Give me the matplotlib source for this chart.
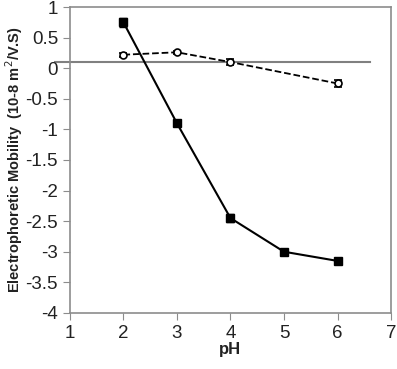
import matplotlib
matplotlib.use('Agg')
import matplotlib.pyplot as plt

# data
ph_solid = [2, 3, 4, 5, 6]
mob_solid = [0.75, -0.9, -2.45, -3.0, -3.15]
err_solid = [0.07, 0.03, 0.06, 0.03, 0.05]

ph_open = [2, 3, 4, 6]
mob_open = [0.22, 0.26, 0.1, -0.25]
err_open = [0.03, 0.02, 0.05, 0.05]

ref_level = 0.1

plt.rcParams['font.family'] = ['Liberation Sans', 'DejaVu Sans']

fig = plt.figure(figsize=(3.97, 3.69), dpi=100)
ax = fig.add_axes([0.176, 0.152, 0.809, 0.829])

# grey reference line
ax.plot([0.72, 6.6], [ref_level, ref_level], color='#808080', lw=1.5, clip_on=False, zorder=1)

ax.errorbar(ph_solid, mob_solid, yerr=err_solid, color='black', lw=1.5, marker='s',
            markersize=6, capsize=3, elinewidth=1, zorder=3)
ax.errorbar(ph_open, mob_open, yerr=err_open, color='black', lw=1.3, ls='--', marker='o',
            markersize=5, mfc='white', mew=1.2, capsize=3, elinewidth=1, zorder=3)

ax.set_xlim(1, 7)
ax.set_ylim(-4, 1)
ax.set_xticks(range(1, 8))
ax.set_yticks([1, 0.5, 0, -0.5, -1, -1.5, -2, -2.5, -3, -3.5, -4])
ax.set_yticklabels(['1', '0.5', '0', '-0.5', '-1', '-1.5', '-2', '-2.5', '-3', '-3.5', '-4'])
for s in ax.spines.values():
    s.set_color('#8c8c8c')
    s.set_linewidth(1.2)
ax.tick_params(direction='out', length=5, color='#8c8c8c', labelsize=13.5, labelcolor='#222222')

ax.set_xlabel('pH', fontsize=12, fontweight='bold', color='#222222', labelpad=0)
ax.set_ylabel('Electrophoretic Mobility  (10-8 m$^2$/V.S)', fontsize=10.5, fontweight='bold',
              color='#222222', labelpad=0)

fig.savefig('out.png', dpi=100)
